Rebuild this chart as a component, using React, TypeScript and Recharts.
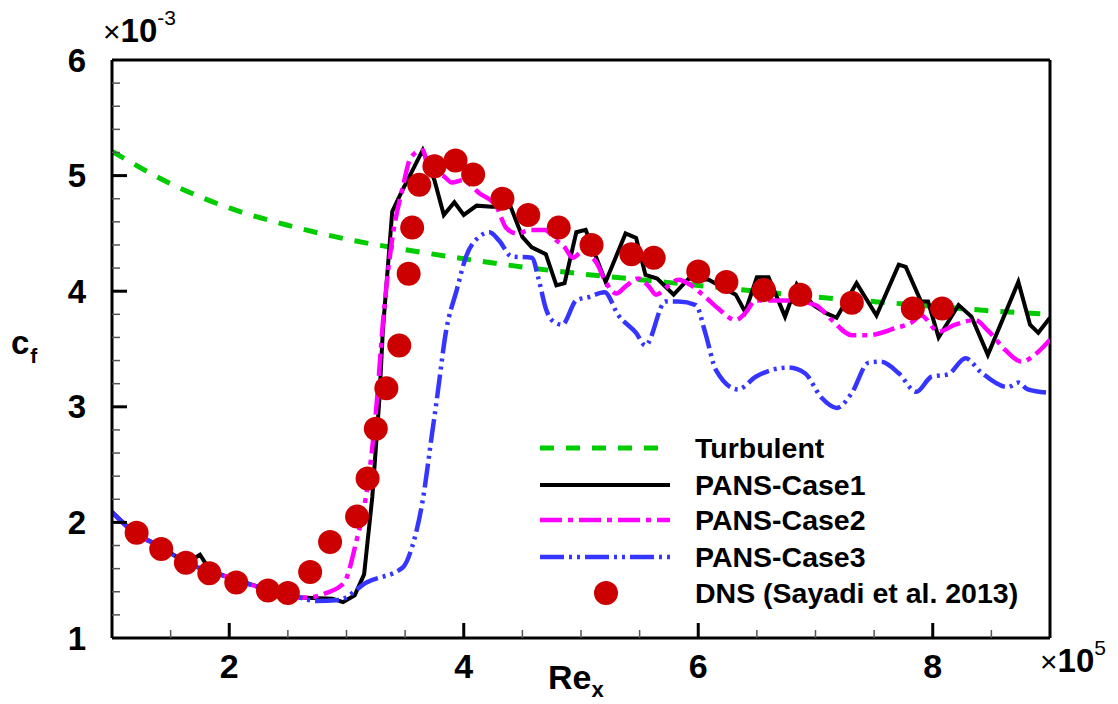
import React from 'react'
import {
  ComposedChart,
  Line,
  Scatter,
  XAxis,
  YAxis,
  ReferenceLine,
  Legend,
} from 'recharts'

// skin friction, in units of 1e-3, against Re_x in units of 1e5
const turbX = [1, 1.5, 2, 2.5, 3, 3.5, 4, 4.5, 5, 5.5, 6, 6.5, 7, 7.5, 8, 8.5, 9]
const turbCf = [5.21, 4.93, 4.72, 4.57, 4.45, 4.36, 4.28, 4.21, 4.15, 4.1, 4.05, 4.0, 3.95, 3.91, 3.87, 3.83, 3.8]

const case1X = [
  1.0, 1.18, 1.41, 1.64, 1.75, 1.84, 1.98, 2.32, 2.6, 2.88, 2.97, 3.07, 3.15, 3.22, 3.28, 3.31,
  3.39, 3.47, 3.65, 3.75, 3.83, 3.92, 4.0, 4.11, 4.24, 4.4, 4.5, 4.58, 4.7, 4.79, 4.86, 4.96,
  5.04, 5.21, 5.38, 5.47, 5.55, 5.65, 5.79, 5.92, 6.09, 6.32, 6.4, 6.5, 6.6, 6.74, 6.84, 6.98,
  7.09, 7.18, 7.35, 7.52, 7.71, 7.77, 7.9, 7.96, 8.05, 8.22, 8.33, 8.47, 8.73, 8.83, 8.9, 9.0,
]
const case1Cf = [
  2.09, 1.92, 1.79, 1.65, 1.72, 1.58, 1.53, 1.42, 1.35, 1.34, 1.31, 1.37, 1.55, 2.22, 3.06, 3.66,
  4.69, 4.86, 5.22, 4.96, 4.66, 4.77, 4.66, 4.74, 4.73, 4.73, 4.47, 4.38, 4.32, 4.05, 4.07, 4.51,
  4.53, 4.08, 4.5, 4.46, 4.14, 4.11, 3.97, 4.11, 4.1, 3.97, 3.82, 4.12, 4.12, 3.78, 4.06, 3.88,
  3.81, 3.77, 4.07, 3.79, 4.23, 4.21, 3.91, 3.91, 3.6, 3.88, 3.78, 3.45, 4.08, 3.71, 3.64, 3.77,
]

const case2X = [
  1.0, 1.18, 1.41, 1.64, 1.98, 2.32, 2.6, 2.66, 2.83, 2.98, 3.08, 3.17, 3.26, 3.31, 3.38, 3.48,
  3.55, 3.65, 3.71, 3.82, 3.9, 3.99, 4.13, 4.28, 4.36, 4.45, 4.58, 4.69, 4.79, 4.86, 4.93, 5.01,
  5.13, 5.21, 5.3, 5.39, 5.49, 5.58, 5.64, 5.75, 5.83, 5.94, 6.06, 6.17, 6.32, 6.4, 6.49, 6.63,
  6.77, 7.0, 7.14, 7.31, 7.45, 7.68, 7.82, 7.9, 8.05, 8.19, 8.36, 8.47, 8.62, 8.76, 8.87, 9.0,
]
const case2Cf = [
  2.09, 1.92, 1.79, 1.65, 1.53, 1.42, 1.35, 1.35, 1.39, 1.48, 1.82, 2.25, 3.06, 3.72, 4.38, 4.9,
  5.16, 5.22, 5.02, 5.0, 4.94, 4.96, 4.85, 4.73, 4.55, 4.5, 4.53, 4.53, 4.44, 4.38, 4.29, 4.34,
  4.25, 4.08, 3.98, 4.05, 4.11, 4.04, 3.97, 4.05, 4.1, 4.05, 3.95, 3.85, 3.75, 3.81, 3.92, 3.92,
  3.92, 3.88, 3.75, 3.62, 3.62, 3.68, 3.73, 3.79, 3.65, 3.71, 3.75, 3.66, 3.49, 3.39, 3.45, 3.58,
]

const case3X = [
  1.0, 1.18, 1.41, 1.64, 1.98, 2.32, 2.6, 2.74, 2.94, 3.17, 3.48, 3.56, 3.65, 3.73, 3.77, 3.85,
  3.94, 4.02, 4.13, 4.22, 4.3, 4.41, 4.58, 4.64, 4.7, 4.75, 4.84, 4.96, 5.07, 5.2, 5.32, 5.47,
  5.55, 5.72, 5.83, 5.98, 6.06, 6.15, 6.34, 6.49, 6.63, 6.77, 6.91, 7.05, 7.18, 7.31, 7.45, 7.56,
  7.71, 7.86, 7.99, 8.13, 8.28, 8.41, 8.64, 8.73, 8.81, 9.0,
]
const case3Cf = [
  2.09, 1.92, 1.79, 1.65, 1.53, 1.42, 1.35, 1.32, 1.33, 1.48, 1.61, 1.79, 2.19, 2.77, 3.06, 3.66,
  4.01, 4.3, 4.47, 4.51, 4.44, 4.3, 4.29, 4.1, 3.85, 3.75, 3.71, 3.92, 3.95, 3.99, 3.79, 3.64,
  3.53, 3.91, 3.91, 3.88, 3.64, 3.32, 3.15, 3.26, 3.32, 3.34, 3.29, 3.08, 2.99, 3.12, 3.38, 3.39,
  3.29, 3.13, 3.26, 3.28, 3.42, 3.3, 3.17, 3.21, 3.15, 3.12,
]

const dnsX = [
  1.21, 1.42, 1.63, 1.83, 2.06, 2.33, 2.5, 2.69, 2.86, 3.09, 3.18, 3.25, 3.34, 3.45, 3.53, 3.56, 3.62,
  3.75, 3.93, 4.08, 4.33, 4.55, 4.81, 5.09, 5.43, 5.62, 6.0, 6.24, 6.56, 6.87, 7.31, 7.83, 8.08,
]
const dnsCf = [
  1.91, 1.77, 1.65, 1.56, 1.48, 1.41, 1.39, 1.57, 1.83, 2.05, 2.38, 2.81, 3.16, 3.53, 4.15, 4.55, 4.92,
  5.08, 5.13, 5.01, 4.8, 4.66, 4.55, 4.4, 4.32, 4.29, 4.17, 4.08, 4.01, 3.97, 3.9, 3.85, 3.85,
]

const X_TICKS = [1.5, 2, 2.5, 3, 3.5, 4, 4.5, 5, 5.5, 6, 6.5, 7, 7.5, 8, 8.5]
const X_LABELS = [2, 4, 6, 8]
const Y_TICKS = [
  1, 1.2, 1.4, 1.6, 1.8, 2, 2.2, 2.4, 2.6, 2.8, 3, 3.2, 3.4, 3.6, 3.8, 4, 4.2, 4.4, 4.6, 4.8,
  5, 5.2, 5.4, 5.6, 5.8, 6,
]
const Y_LABELS = [1, 2, 3, 4, 5, 6]

const zip = (xs: number[], ys: number[]) => xs.map((x, i) => ({ x, y: ys[i] }))

const turbData = zip(turbX, turbCf)
const case1Data = zip(case1X, case1Cf)
const case2Data = zip(case2X, case2Cf)
const case3Data = zip(case3X, case3Cf)
const dnsData = zip(dnsX, dnsCf)

const FONT = 'Arial, "Liberation Sans", Helvetica, sans-serif'
const PLOT_LEFT = 112
const PLOT_BOTTOM = 638
const DNS_RED = '#cc0000'

const LINES = [
  { name: 'Turbulent', color: '#00cc00', dash: '14 12', width: 5 },
  { name: 'PANS-Case1', color: '#000000', dash: undefined, width: 4 },
  { name: 'PANS-Case2', color: '#ff00ff', dash: '22 6 5 6', width: 4.5 },
  { name: 'PANS-Case3', color: '#3535ff', dash: '24 5 3 5 3 5', width: 4.5 },
]

const isMajor = (v: number, labels: number[]) => labels.some((l) => Math.abs(l - v) < 1e-6)

function XTick({ x, payload }: any) {
  const major = isMajor(payload.value, X_LABELS)
  return (
    <g>
      <line
        x1={x}
        x2={x}
        y1={PLOT_BOTTOM}
        y2={PLOT_BOTTOM - (major ? 15 : 8)}
        stroke={major ? '#000' : '#555'}
        strokeWidth={major ? 3 : 1.5}
      />
      {major && (
        <text
          x={x}
          y={666}
          textAnchor="middle"
          dominantBaseline="central"
          fontFamily={FONT}
          fontWeight="bold"
          fontSize={34}
          fill="#000"
        >
          {payload.value}
        </text>
      )}
    </g>
  )
}

function YTick({ y, payload }: any) {
  const v = payload.value
  const major = isMajor(v, Y_LABELS)
  const edge = v === 1 || v === 6
  return (
    <g>
      {!edge && (
        <line
          x1={PLOT_LEFT}
          x2={PLOT_LEFT + (major ? 15 : 8)}
          y1={y}
          y2={y}
          stroke={major ? '#000' : '#555'}
          strokeWidth={major ? 3 : 1.5}
        />
      )}
      {major && (
        <text
          x={86}
          y={y}
          textAnchor="end"
          dominantBaseline="central"
          fontFamily={FONT}
          fontWeight="bold"
          fontSize={33}
          fill="#000"
        >
          {v}
        </text>
      )}
    </g>
  )
}

function YAxisTitle() {
  return (
    <g fontFamily={FONT} fill="#000">
      <text x={11} y={354} fontWeight="bold" fontSize={33}>
        c
        <tspan dx={1} dy={9} fontSize={21}>
          f
        </tspan>
      </text>
      <text x={103} y={42} fontSize={30}>
        ×
        <tspan fontWeight="bold" fontSize={33}>
          10
        </tspan>
        <tspan dy={-17} fontSize={21}>
          -3
        </tspan>
      </text>
    </g>
  )
}

function XAxisTitle() {
  return (
    <g fontFamily={FONT} fill="#000">
      <text x={548} y={689} fontWeight="bold" fontSize={34}>
        Re
        <tspan dy={8} fontSize={22}>
          x
        </tspan>
      </text>
      <text x={1040} y={672} fontSize={30}>
        ×
        <tspan fontWeight="bold" fontSize={33}>
          10
        </tspan>
        <tspan dy={-17} fontSize={21}>
          5
        </tspan>
      </text>
    </g>
  )
}

function LegendBox() {
  const rowY = [28, 65, 100, 137, 173]
  return (
    <svg width={520} height={200} style={{ display: 'block' }}>
      {LINES.map((s, i) => (
        <line
          key={s.name}
          x1={20}
          x2={150}
          y1={rowY[i]}
          y2={rowY[i]}
          stroke={s.color}
          strokeWidth={s.width}
          strokeDasharray={s.dash}
        />
      ))}
      <circle cx={86} cy={rowY[4]} r={12} fill={DNS_RED} />
      {[...LINES.map((s) => s.name), 'DNS (Sayadi et al. 2013)'].map((name, i) => (
        <text
          key={name}
          x={175}
          y={rowY[i]}
          dominantBaseline="central"
          fontFamily={FONT}
          fontWeight="bold"
          fontSize={28.5}
          fill="#000"
        >
          {name}
        </text>
      ))}
    </svg>
  )
}

const dataSets = [turbData, case1Data, case2Data, case3Data]

export default function App() {
  return (
    <div style={{ position: 'absolute', left: 0, top: 0, width: 1118, height: 704, background: '#fff' }}>
      <ComposedChart width={1118} height={704} margin={{ top: 60, right: 68, left: 0, bottom: 0 }}>
        <XAxis
          type="number"
          dataKey="x"
          domain={[1, 9]}
          ticks={X_TICKS}
          interval={0}
          tick={<XTick />}
          tickLine={false}
          axisLine={{ stroke: '#000', strokeWidth: 3 }}
          height={66}
          allowDataOverflow
          label={<XAxisTitle />}
        />
        <YAxis
          type="number"
          dataKey="y"
          domain={[1, 6]}
          ticks={Y_TICKS}
          interval={0}
          tick={<YTick />}
          tickLine={false}
          axisLine={{ stroke: '#000', strokeWidth: 3 }}
          width={112}
          allowDataOverflow
          label={<YAxisTitle />}
        />
        <ReferenceLine y={6} stroke="#000" strokeWidth={3} />
        <ReferenceLine x={9} stroke="#000" strokeWidth={3} />
        {LINES.map((s, i) => (
          <Line
            key={s.name}
            name={s.name}
            data={dataSets[i]}
            dataKey="y"
            type={i === 1 ? 'linear' : 'monotone'}
            stroke={s.color}
            strokeWidth={s.width}
            strokeDasharray={s.dash}
            dot={false}
            activeDot={false}
            isAnimationActive={false}
          />
        ))}
        <Scatter
          name="DNS (Sayadi et al. 2013)"
          data={dnsData}
          dataKey="y"
          fill={DNS_RED}
          isAnimationActive={false}
          shape={(p: any) => <circle cx={p.cx} cy={p.cy} r={12} fill={DNS_RED} />}
        />
        <Legend
          layout="vertical"
          align="center"
          verticalAlign="middle"
          content={() => <LegendBox />}
          wrapperStyle={{ position: 'absolute', left: 520, top: 420, width: 520, height: 200 }}
        />
      </ComposedChart>
    </div>
  )
}
